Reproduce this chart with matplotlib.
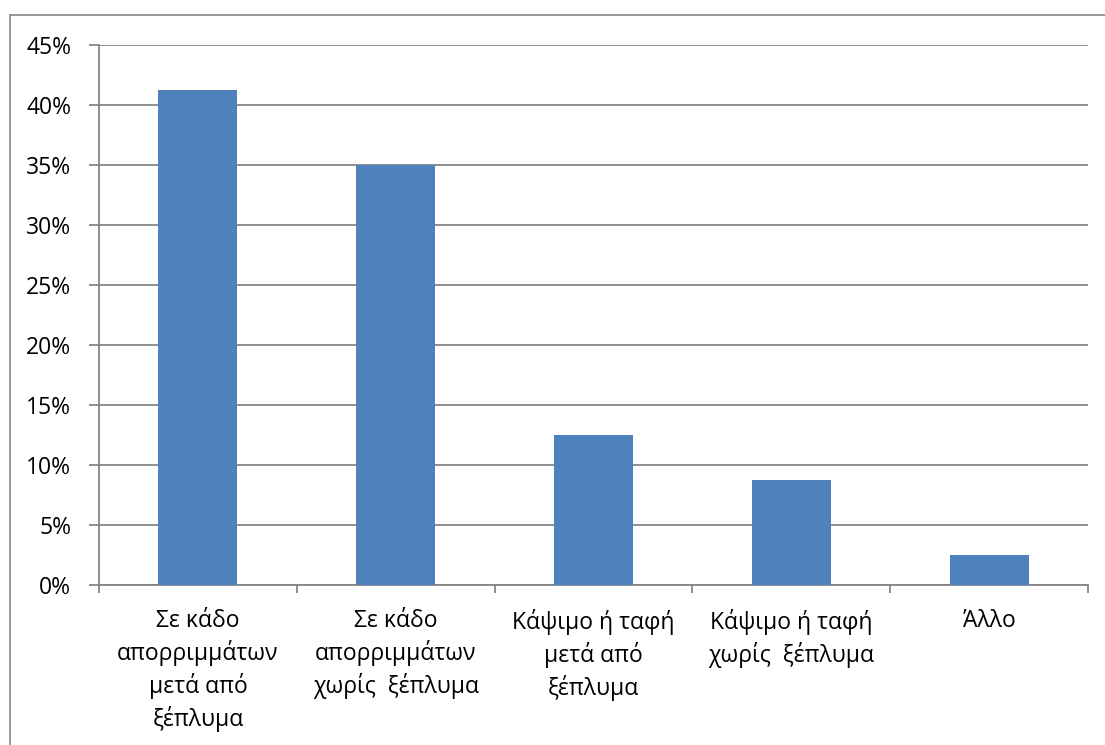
import matplotlib
matplotlib.use("Agg")
import matplotlib.pyplot as plt
from matplotlib.patches import Rectangle
from matplotlib.ticker import FuncFormatter, MultipleLocator

categories = [
    "Σε κάδο\nαπορριμμάτων\nμετά από\nξέπλυμα",
    "Σε κάδο\nαπορριμμάτων\nχωρίς  ξέπλυμα",
    "Κάψιμο ή ταφή\nμετά από\nξέπλυμα",
    "Κάψιμο ή ταφή\nχωρίς  ξέπλυμα",
    "Άλλο",
]
shares = [41.25, 35.0, 12.5, 8.75, 2.5]

W, H = 1105, 745
plt.rcParams["font.family"] = ["Open Sans", "DejaVu Sans"]
fig = plt.figure(figsize=(W / 100, H / 100), dpi=100)

# outer chart frame
fig.patches.append(Rectangle((10 / W, -0.01), 1.1, (H - 15) / H + 0.01,
                             transform=fig.transFigure, fill=False,
                             edgecolor="#868686", linewidth=1.2))

ax = fig.add_axes([99 / W, (H - 585) / H, 989 / W, 540 / H])
grid_c = "#868686"
x = range(len(categories))
ax.bar(x, shares, width=0.4, color="#4F81BD", zorder=3)

ax.set_xlim(-0.5, len(categories) - 0.5)
ax.set_ylim(0, 45)
ax.yaxis.set_major_locator(MultipleLocator(5))
ax.yaxis.set_major_formatter(FuncFormatter(lambda v, _: f"{v:.0f}%"))
ax.grid(axis="y", color=grid_c, linewidth=1.3, zorder=0)
ax.set_axisbelow(True)

for s in ["top", "right"]:
    ax.spines[s].set_visible(False)
for s in ["left", "bottom"]:
    ax.spines[s].set_color(grid_c)
    ax.spines[s].set_linewidth(1.3)

ax.set_xticks([i + 0.5 for i in range(-1, len(categories))], minor=False)
ax.set_xticklabels([])
ax.set_xticks(list(x), minor=True)
ax.set_xticklabels(categories, minor=True, fontsize=16.5, linespacing=1.36,
                   va="top", ha="center")
ax.tick_params(axis="x", which="major", length=6, color=grid_c, width=1.3,
               direction="out")
ax.tick_params(axis="x", which="minor", length=0, pad=17)
ax.tick_params(axis="y", length=7, color=grid_c, width=1.3, labelsize=16.5,
               pad=13, labelcolor="black")

fig.savefig("out.png", dpi=100)
